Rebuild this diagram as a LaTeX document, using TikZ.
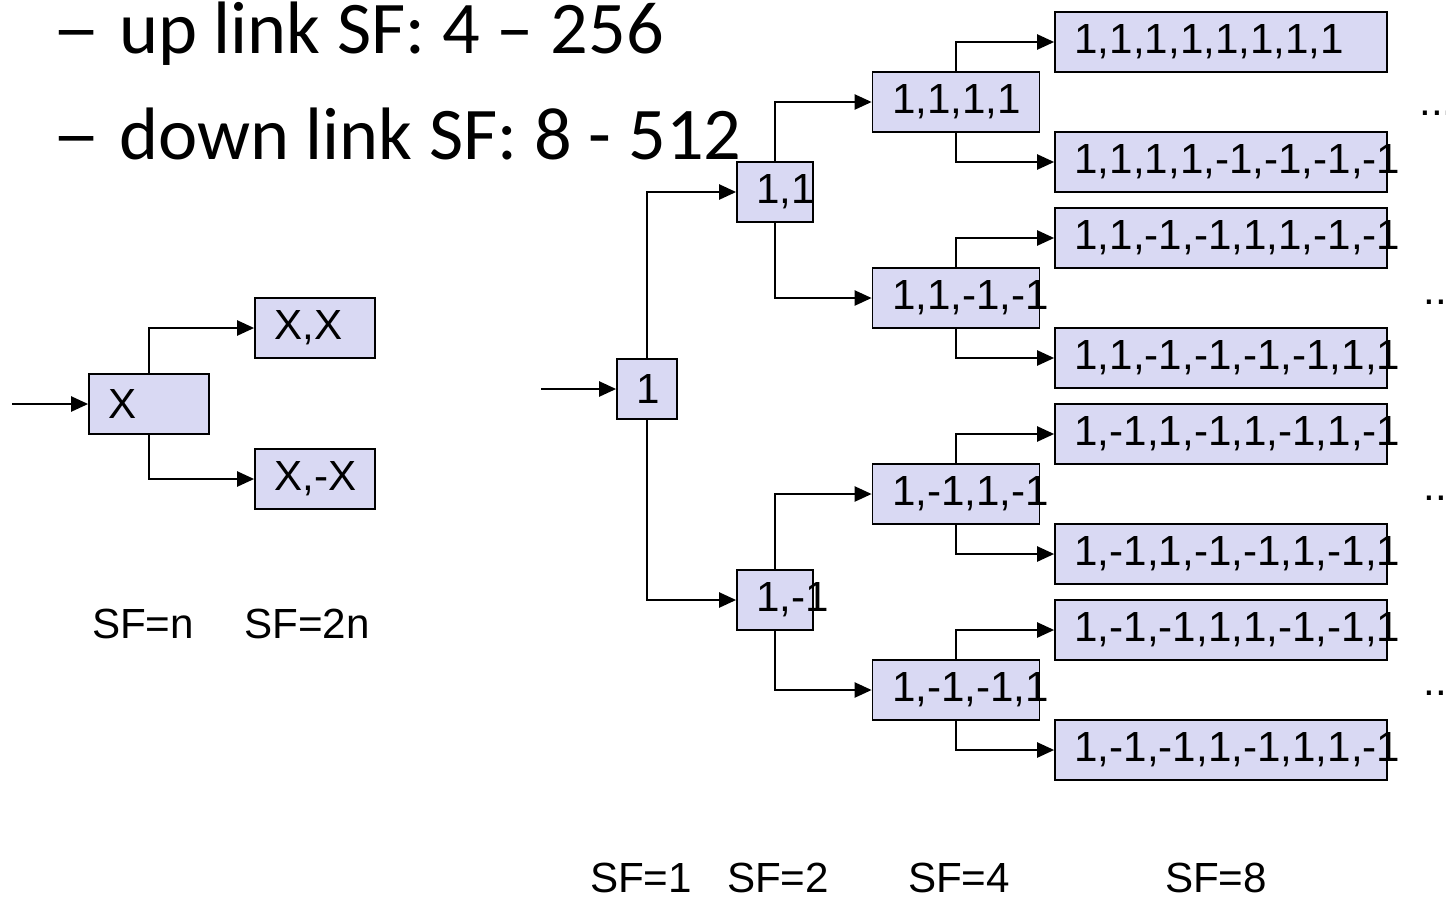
\documentclass[tikz,border=0pt]{standalone}
\usepackage{fontspec}
\setmainfont{Liberation Sans}
\newfontfamily\slidefont{Carlito}
\usetikzlibrary{arrows.meta}
\definecolor{boxfill}{RGB}{217,217,243}
\exhyphenpenalty=10000
\tikzset{
  code/.style={draw, fill=boxfill, line width=1pt, minimum height=1.2cm,
    inner xsep=0.39cm, inner ysep=0pt, text width=#1, align=left,
    font=\fontsize{24}{28}\selectfont},
  link/.style={->, line width=1.3pt},
  sflabel/.style={anchor=base, inner sep=0pt, font=\fontsize{24}{28}\selectfont},
  bullet/.style={anchor=base west, inner sep=0pt, font=\slidefont\fontsize{42.3}{50}\selectfont}
}
\begin{document}
\begin{tikzpicture}[x=0.02cm, y=-0.02cm, >={Triangle[length=0.34cm, width=0.3cm]}]
  \useasboundingbox (0,0) rectangle (1446,896);
  \node[bullet] (up) at (52,53) {\scalebox{1.3}[1]{–}\hspace{0.25em}up link SF: 4 – 256};
  \node[bullet] (down) at (52,159) {\scalebox{1.3}[1]{–}\hspace{0.25em}down link SF: 8 - 512};

  % basic rule
  \coordinate (inx) at (12,404);
  \node[code=1.62cm] (x) at (149,404) {X};
  \node[code=1.62cm] (xx) at (315,328) {X,X};
  \node[code=1.62cm] (xmx) at (315,479) {X,-X};
  \draw[link] (inx) -- (x);
  \draw[link] (x.north) |- (xx.west);
  \draw[link] (x.south) |- (xmx.west);
  \node[sflabel] (sfn) at (143,638) {SF=n};
  \node[sflabel] (sf2n) at (307,638) {SF=2n};

  % code tree
  \coordinate (in1) at (541,389);
  \node[code=0.42cm] (c1) at (647,389) {1};
  \node[code=0.74cm] (c11) at (775,192) {1,1};
  \node[code=0.74cm] (c1m) at (775,600) {1,-1};
  \node[code=2.56cm] (c1111) at (956,102) {1,1,1,1};
  \node[code=2.56cm] (c11mm) at (956,298) {1,1,-1,-1};
  \node[code=2.56cm] (c1m1m) at (956,494) {1,-1,1,-1};
  \node[code=2.56cm] (c1mm1) at (956,690) {1,-1,-1,1};
  \node[code=5.86cm] (d1) at (1221,42) {1,1,1,1,1,1,1,1};
  \node[code=5.86cm] (d2) at (1221,162) {1,1,1,1,-1,-1,-1,-1};
  \node[code=5.86cm] (d3) at (1221,238) {1,1,-1,-1,1,1,-1,-1};
  \node[code=5.86cm] (d4) at (1221,358) {1,1,-1,-1,-1,-1,1,1};
  \node[code=5.86cm] (d5) at (1221,434) {1,-1,1,-1,1,-1,1,-1};
  \node[code=5.86cm] (d6) at (1221,554) {1,-1,1,-1,-1,1,-1,1};
  \node[code=5.86cm] (d7) at (1221,630) {1,-1,-1,1,1,-1,-1,1};
  \node[code=5.86cm] (d8) at (1221,750) {1,-1,-1,1,-1,1,1,-1};
  \draw[link] (in1) -- (c1);
  \draw[link] (c1.north) |- (c11.west);
  \draw[link] (c1.south) |- (c1m.west);
  \draw[link] (c11.north) |- (c1111.west);
  \draw[link] (c11.south) |- (c11mm.west);
  \draw[link] (c1m.north) |- (c1m1m.west);
  \draw[link] (c1m.south) |- (c1mm1.west);
  \draw[link] (c1111.north) |- (d1.west);
  \draw[link] (c1111.south) |- (d2.west);
  \draw[link] (c11mm.north) |- (d3.west);
  \draw[link] (c11mm.south) |- (d4.west);
  \draw[link] (c1m1m.north) |- (d5.west);
  \draw[link] (c1m1m.south) |- (d6.west);
  \draw[link] (c1mm1.north) |- (d7.west);
  \draw[link] (c1mm1.south) |- (d8.west);
  \node[sflabel, anchor=base west] (more1) at (1419,115) {...};
  \node[sflabel, anchor=base west] (more2) at (1423,304) {...};
  \node[sflabel, anchor=base west] (more3) at (1423,500) {...};
  \node[sflabel, anchor=base west] (more4) at (1423,695) {...};
  \node[sflabel] (sf1) at (641,892) {SF=1};
  \node[sflabel] (sf2) at (778,892) {SF=2};
  \node[sflabel] (sf4) at (959,892) {SF=4};
  \node[sflabel] (sf8) at (1216,892) {SF=8};
\end{tikzpicture}
\end{document}
